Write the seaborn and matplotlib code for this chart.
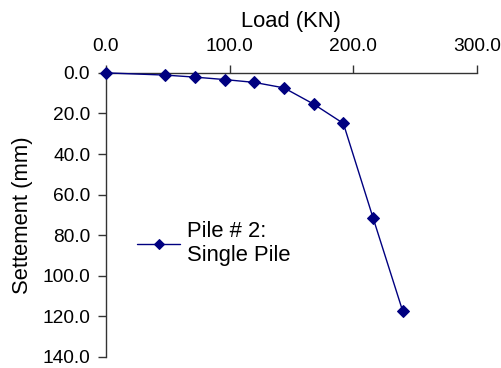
import matplotlib
matplotlib.use("Agg")
import matplotlib.pyplot as plt
import seaborn as sns
import pandas as pd

load = [0, 48, 72, 96, 120, 144, 168, 192, 216, 240]
settlement = [0, 1.1, 2.1, 3.3, 4.7, 7.4, 15.4, 24.9, 71.4, 117.4]
series_name = "Pile # 2:\nSingle Pile"
x_ticks = [0, 100, 200, 300]
y_ticks = [0, 20, 40, 60, 80, 100, 120, 140]

sns.set_theme(style="white")
plt.rcParams['font.family'] = ['Liberation Sans', 'DejaVu Sans']
plt.rcParams['text.color'] = 'black'
plt.rcParams['axes.labelcolor'] = 'black'
plt.rcParams['xtick.color'] = 'black'
plt.rcParams['ytick.color'] = 'black'

df = pd.DataFrame({"Load": load, "Settlement": settlement, "series": series_name})

fig = plt.figure(figsize=(5.02, 3.68), dpi=100)
ax = fig.add_axes([0.211, 0.030, 0.739, 0.772])
sns.lineplot(data=df, x="Load", y="Settlement", hue="series", palette=["#000080"],
             marker="D", markersize=6, markeredgecolor="#000080", linewidth=1,
             sort=False, ax=ax, clip_on=False, zorder=5)
ax.set_xlim(0, 300)
ax.set_ylim(140, 0)
ax.xaxis.tick_top()
ax.xaxis.set_label_position("top")
ax.set_xticks(x_ticks)
ax.set_xticklabels([f"{v:.1f}" for v in x_ticks], fontsize=13.8)
ax.set_yticks(y_ticks)
ax.set_yticklabels([f"{v:.1f}" for v in y_ticks], fontsize=13.8)
ax.set_xlabel("Load (KN)", fontsize=15.8, labelpad=8)
ax.set_ylabel("Settement (mm)", fontsize=15.8, labelpad=7)
for s in ["right", "bottom"]:
    ax.spines[s].set_visible(False)
for s in ["left", "top"]:
    ax.spines[s].set_color("#333333")
    ax.spines[s].set_linewidth(1)
ax.tick_params(axis="both", direction="out", length=5.8, width=1, color="#333333",
               labelcolor="black", top=True, left=True, bottom=False, right=False)
ax.tick_params(axis="x", pad=7)
ax.tick_params(axis="y", pad=5.5)
leg = ax.legend(loc="upper left", bbox_to_anchor=(0.059, 0.51), borderaxespad=0,
                frameon=False, fontsize=15.8, handlelength=2.0, handletextpad=0.3,
                markerscale=0.8)
for t in leg.get_texts():
    t.set_color("black")
fig.savefig("out.png", dpi=100)
